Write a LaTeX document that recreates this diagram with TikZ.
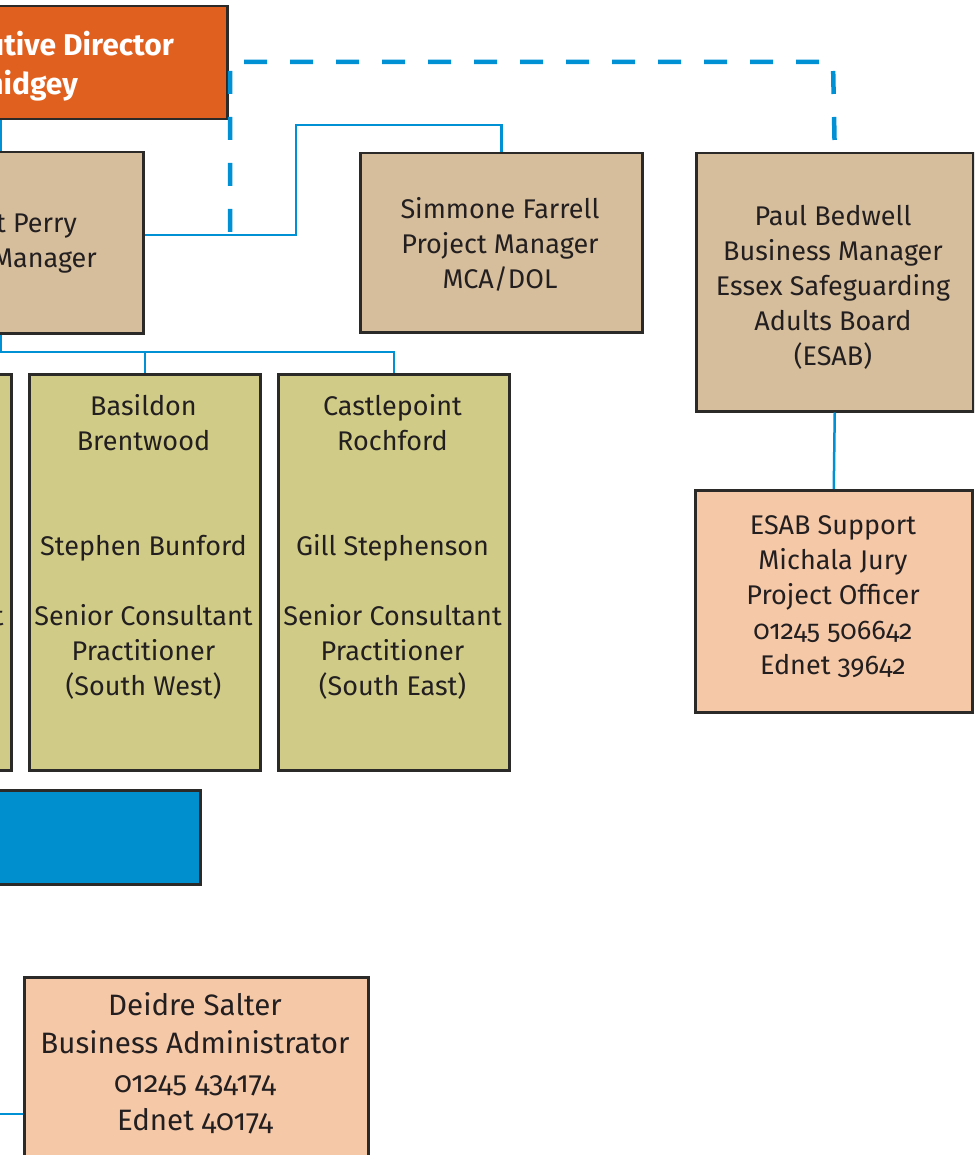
\documentclass[tikz,border=0pt]{standalone}
\usepackage{fontspec}
\setmainfont{Fira Sans}[Numbers=OldStyle]
\definecolor{orng}{HTML}{E0601F}
\definecolor{tanc}{HTML}{D6BE9C}
\definecolor{grn}{HTML}{D0CC88}
\definecolor{pch}{HTML}{F5C8A8}
\definecolor{bboxc}{HTML}{008FCE}
\definecolor{lineb}{HTML}{0090D4}
\definecolor{edgec}{HTML}{2B2A29}
\definecolor{txtc}{HTML}{231F20}
\begin{document}
\begin{tikzpicture}[x=1pt,y=-1pt,
  box/.style={draw=edgec,line width=2.5pt,rectangle,inner sep=0pt,anchor=north west},
  conn/.style={draw=lineb,line width=2.5pt},
  dashconn/.style={draw=lineb,line width=4.5pt,dash pattern=on 23pt off 23pt},
  txt/.style={align=center,text=txtc,inner sep=0pt,font=\fontsize{27}{35}\selectfont},
  bigtxt/.style={align=center,text=txtc,inner sep=0pt,font=\fontsize{29.5}{38.5}\selectfont},
  hdtxt/.style={text=white,inner sep=0pt,font=\fontsize{30}{38}\selectfont\bfseries}]
\useasboundingbox (0,0) rectangle (974,1155);
\clip (0,0) rectangle (974,1155);
% boxes
\node[box,fill=orng,minimum width=500pt,minimum height=113pt] (exec) at (-274,5) {};
\node[box,fill=tanc,minimum width=342pt,minimum height=181pt] (perry) at (-200,151) {};
\node[box,fill=tanc,minimum width=282pt,minimum height=179pt] (simmone) at (359,152) {};
\node[box,fill=tanc,minimum width=277pt,minimum height=258pt] (paul) at (695,152) {};
\node[box,fill=pch,minimum width=277pt,minimum height=222pt] (esab) at (694,489) {};
\node[box,fill=grn,minimum width=231pt,minimum height=396pt] (leftg) at (-221,373) {};
\node[box,fill=grn,minimum width=231pt,minimum height=396pt] (basil) at (28,373) {};
\node[box,fill=grn,minimum width=231pt,minimum height=396pt] (castle) at (277,373) {};
\node[box,fill=bboxc,minimum width=300pt,minimum height=94pt] (bluebox) at (-101,789) {};
\node[box,fill=pch,minimum width=344pt,minimum height=230pt] (deidre) at (23,976) {};
% texts
\node[hdtxt,anchor=base east] (exec-t1) at (174,56) {Executive Director};
\node[hdtxt,anchor=base east] (exec-t2) at (78,95) {Chidgey};
\node[txt,anchor=base east] (perry-t1) at (77,233) {t Perry};
\node[txt,anchor=base east] (perry-t2) at (97,268) {Manager};
\node[txt] (simmone-t) at (500,244) {Simmone Farrell\\Project Manager\\MCA/DOL};
\node[txt] (paul-t) at (833,287) {Paul Bedwell\\Business Manager\\Essex Safeguarding\\Adults Board\\(ESAB)};
\node[txt] (esab-t) at (833,597) {ESAB Support\\Michala Jury\\Project Officer\\01245 506642\\Ednet 39642};
\node[txt,anchor=base] (leftg-t) at (-105.5,625) {Senior Consultant};
\node[txt] (basil-t) at (143.5,547) {Basildon\\Brentwood\\[70pt]Stephen Bunford\\[35pt]Senior Consultant\\Practitioner\\(South West)};
\node[txt] (castle-t) at (392.5,547) {Castlepoint\\Rochford\\[70pt]Gill Stephenson\\[35pt]Senior Consultant\\Practitioner\\(South East)};
\node[bigtxt] (deidre-t) at (195,1063) {Deidre Salter\\Business Administrator\\01245 434174\\Ednet 40174};
% connectors
\coordinate (dropx) at (1,0);
\coordinate (pl) at (0,235);
\coordinate (b1) at (296,125);
\coordinate (bus) at (-120,352);
\coordinate (d0) at (230,232);
\coordinate (d1) at (833,62);
\coordinate (dl) at (-60,1114);
\draw[conn] (exec.south -| dropx) -- (perry.north -| dropx);
\draw[conn] (perry.east |- pl) -| (b1) -| (simmone.north);
\draw[dashconn] (d0) |- (d1) -- (paul.north);
\draw[conn] (perry.south -| dropx) -- (dropx |- bus);
\draw[conn] (bus) -| (castle.north);
\draw[conn] (basil.north |- bus) -- (basil.north);
\draw[conn] (paul.south) -- (esab.north);
\draw[conn] (dl) -- (dl -| deidre.west);
\end{tikzpicture}
\end{document}
